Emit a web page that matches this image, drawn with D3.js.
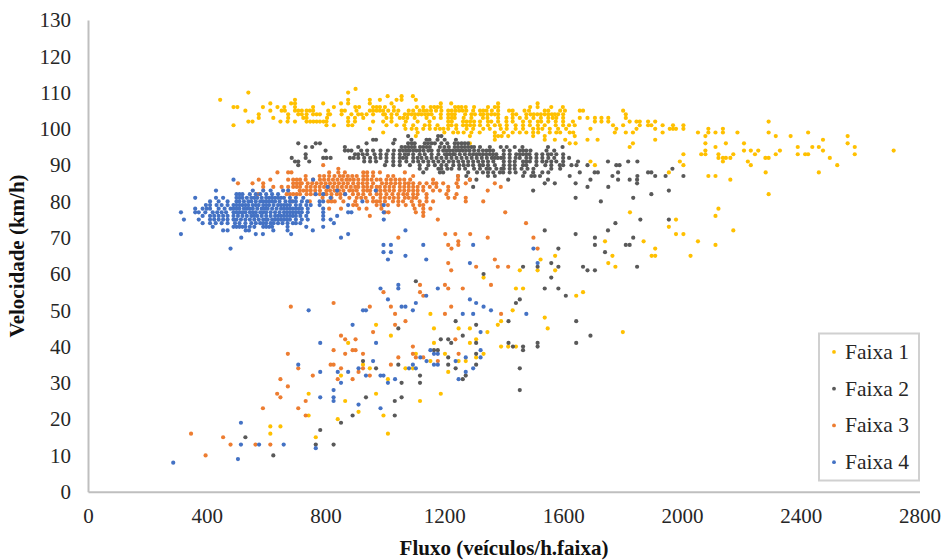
<!DOCTYPE html>
<html lang="pt">
<head>
<meta charset="UTF-8">
<title>Fluxo x Velocidade</title>
<script src="https://d3js.org/d3.v7.min.js"></script>
<style>
    html, body { margin: 0; padding: 0; background: #fff; }
    svg { display: block; }
    text { font-family: "Liberation Serif", serif; fill: #262626; }
    .axis path { stroke: #bfbfbf; stroke-width: 2px; }
    .axis text { font-size: 21px; }
    .title { font-size: 21px; font-weight: bold; fill: #111; }
    .legend-label { font-size: 21.5px; }
</style>
</head>
<body>
<div id="chart"></div>
<script>
const xTicks = [0, 400, 800, 1200, 1600, 2000, 2400, 2800];
const yTicks = [0, 10, 20, 30, 40, 50, 60, 70, 80, 90, 100, 110, 120, 130];
const seriesNames = ["Faixa 1", "Faixa 2", "Faixa 3", "Faixa 4"];
const seriesColors = ["#ffc000", "#595959", "#ed7d31", "#4472c4"];

// each row is [speed, [flows read at that speed]]
const faixa1 = [
    [111, [901]],
    [110, [540, 876]],
    [109, [1009, 1056, 1094]],
    [108, [445, 697, 876, 949, 983, 1039, 1056, 1104]],
    [107, [614, 684, 697, 792, 852, 876, 949, 1022, 1188, 1223, 1381, 1514]],
    [106, [490, 503, 589, 638, 661, 697, 758, 828, 900, 913, 960, 972, 983, 1000, 1030, 1107, 1129, 1154, 1166, 1177, 1188, 1236, 1247, 1258, 1272, 1300, 1347, 1370, 1381, 1489, 1514, 1560, 1599]],
    [105, [530, 614, 652, 663, 697, 708, 720, 736, 747, 758, 809, 854, 865, 904, 949, 960, 972, 983, 994, 1011, 1030, 1045, 1080, 1095, 1117, 1130, 1141, 1155, 1172, 1190, 1213, 1225, 1238, 1250, 1262, 1274, 1297, 1320, 1331, 1342, 1360, 1381, 1418, 1430, 1470, 1485, 1538, 1550, 1590, 1606, 1656, 1667, 1802]],
    [104, [575, 674, 708, 720, 736, 758, 770, 781, 809, 815, 854, 887, 910, 922, 938, 960, 994, 1000, 1022, 1040, 1067, 1078, 1090, 1101, 1112, 1123, 1135, 1146, 1157, 1188, 1213, 1225, 1235, 1270, 1291, 1303, 1322, 1331, 1345, 1358, 1370, 1381, 1430, 1442, 1476, 1490, 1501, 1513, 1525, 1538, 1550, 1562, 1572, 1583, 1600, 1811]],
    [103, [575, 624, 674, 725, 736, 805, 876, 899, 927, 1005, 1022, 1050, 1062, 1075, 1100, 1140, 1165, 1188, 1213, 1225, 1235, 1265, 1291, 1330, 1345, 1381, 1409, 1430, 1454, 1476, 1500, 1525, 1550, 1565, 1577, 1600, 1656, 1682, 1707, 1729, 1752, 1811]],
    [102, [540, 554, 648, 672, 697, 736, 748, 759, 770, 781, 793, 803, 876, 899, 960, 994, 1022, 1070, 1110, 1150, 1213, 1225, 1263, 1275, 1287, 1300, 1320, 1347, 1358, 1381, 1409, 1430, 1465, 1488, 1515, 1526, 1550, 1575, 1600, 1633, 1707, 1729, 1752, 1824, 1847, 1858, 1886, 1910, 2292]],
    [101, [490, 803, 828, 876, 890, 1005, 1039, 1065, 1095, 1134, 1150, 1177, 1213, 1224, 1240, 1263, 1275, 1287, 1300, 1320, 1347, 1370, 1387, 1410, 1440, 1465, 1488, 1515, 1538, 1575, 1600, 1620, 1639, 1768, 1802, 1858, 1886, 1897, 1935, 1970, 2005]],
    [100, [949, 1069, 1090, 1106, 1129, 1151, 1170, 1185, 1197, 1213, 1240, 1275, 1297, 1331, 1353, 1390, 1410, 1440, 1465, 1499, 1516, 1530, 1555, 1583, 1610, 1692, 1779, 1847, 1910, 1959, 1970, 1980, 2005, 2089, 2138]],
    [99, [994, 1110, 1200, 1230, 1246, 1265, 1291, 1319, 1370, 1400, 1430, 1454, 1476, 1499, 1516, 1555, 1577, 1590, 1622, 1634, 1774, 1811, 1835, 1935, 2054, 2089, 2113, 2138, 2187, 2292, 2425]],
    [98, [1104, 1286, 1370, 1381, 1393, 1415, 1499, 1538, 1639, 2079, 2316, 2366, 2558]],
    [97, [1370, 1538, 1572, 1607, 1682, 1716, 1910, 2475]],
    [96, [1286, 1622, 1642, 1835, 2079, 2148, 2209, 2558]],
    [95, [1824, 2113, 2390, 2439, 2461, 2582]],
    [94, [2079, 2209, 2232, 2257, 2330, 2475, 2713]],
    [93, [2005, 2065, 2079, 2123, 2173, 2246, 2316, 2390, 2415, 2425, 2582]],
    [92, [2123, 2138, 2148, 2163, 2281, 2292, 2498]],
    [91, [1692, 1993, 2138, 2222]],
    [90, [1707, 2005, 2232, 2523]],
    [88, [1956, 2282, 2461]],
    [87, [2089, 2113]],
    [86, [2163]],
    [82, [2292]],
    [78, [2123]],
    [77, [1825]],
    [76, [2113]],
    [75, [1980]],
    [73, [1956]],
    [72, [2173]],
    [71, [1980, 2005]],
    [69, [1741, 1871, 2054]],
    [68, [2113]],
    [67, [1910]],
    [65, [1573, 1766, 1898, 1910, 2029]],
    [64, [1524]],
    [63, [1752]],
    [62, [1776]],
    [61, [1454, 1514, 1573]],
    [59, [1332]],
    [56, [1441, 1465]],
    [55, [1667]],
    [54, [1644]],
    [50, [1430]],
    [49, [1153]],
    [48, [1538]],
    [47, [1391]],
    [46, [970, 1380]],
    [45, [1165, 1248, 1286, 1548]],
    [44, [1345, 1801]],
    [43, [1020]],
    [42, [1307]],
    [41, [876, 1165, 1286]],
    [40, [1391, 1415, 1441]],
    [38, [1104, 1202, 1332]],
    [37, [1307]],
    [36, [1153, 1248, 1272]],
    [35, [926]],
    [34, [949, 1069, 1094]],
    [33, [1213]],
    [32, [852]],
    [31, [1010]],
    [27, [743, 970, 1188]],
    [25, [866, 1118]],
    [22, [911]],
    [21, [743, 995]],
    [20, [841]],
    [18, [614, 648]],
    [16, [614, 1010]],
    [15, [767]]
];

const faixa2 = [
    [98, [1078, 1179, 1190]],
    [97, [960, 970, 1033, 1089, 1140, 1150, 1177, 1201, 1239]],
    [96, [708, 767, 781, 938, 1028, 1078, 1090, 1100, 1134, 1145, 1157, 1168, 1190, 1210, 1235, 1246, 1258, 1269, 1280]],
    [95, [733, 755, 865, 910, 1056, 1068, 1079, 1090, 1100, 1118, 1129, 1140, 1151, 1185, 1200, 1215, 1235, 1246, 1258, 1269, 1280, 1291, 1300, 1320, 1353, 1390, 1410, 1437, 1463, 1549, 1598]],
    [94, [800, 865, 876, 887, 920, 940, 960, 985, 1010, 1030, 1050, 1061, 1072, 1083, 1095, 1106, 1117, 1130, 1146, 1157, 1180, 1196, 1207, 1218, 1229, 1240, 1251, 1262, 1273, 1285, 1300, 1315, 1330, 1342, 1353, 1364, 1400, 1420, 1454, 1465, 1476, 1490, 1544, 1570]],
    [93, [733, 899, 910, 925, 940, 965, 985, 1005, 1028, 1050, 1067, 1078, 1095, 1117, 1134, 1157, 1180, 1202, 1210, 1219, 1230, 1235, 1252, 1269, 1285, 1297, 1308, 1319, 1330, 1341, 1353, 1364, 1375, 1400, 1420, 1442, 1454, 1465, 1476, 1487, 1510, 1530, 1549, 1560, 1577, 1600]],
    [92, [686, 733, 792, 803, 817, 882, 895, 910, 930, 950, 968, 985, 1005, 1028, 1050, 1061, 1072, 1095, 1110, 1123, 1140, 1157, 1174, 1190, 1207, 1224, 1241, 1258, 1275, 1292, 1309, 1326, 1343, 1360, 1370, 1380, 1391, 1400, 1420, 1440, 1454, 1476, 1490, 1510, 1530, 1550, 1570, 1600, 1620]],
    [91, [697, 708, 745, 930, 950, 970, 1005, 1028, 1050, 1072, 1095, 1112, 1129, 1146, 1163, 1180, 1197, 1215, 1230, 1247, 1263, 1280, 1297, 1314, 1330, 1347, 1365, 1400, 1420, 1437, 1465, 1476, 1488, 1510, 1530, 1544, 1560, 1577, 1600, 1650, 1751, 1819, 1850]],
    [90, [708, 1000, 1028, 1050, 1084, 1117, 1146, 1168, 1190, 1207, 1230, 1250, 1265, 1280, 1297, 1319, 1330, 1347, 1370, 1400, 1420, 1437, 1465, 1476, 1510, 1540, 1560, 1589, 1600, 1628, 1645, 1682, 1779, 1790]],
    [89, [1117, 1140, 1180, 1190, 1210, 1224, 1250, 1270, 1300, 1320, 1342, 1353, 1375, 1392, 1400, 1420, 1437, 1460, 1480, 1500, 1560, 1590, 1968]],
    [88, [1129, 1185, 1196, 1280, 1310, 1330, 1347, 1365, 1387, 1398, 1420, 1440, 1470, 1499, 1530, 1550, 1656, 1706, 1717, 1785, 1886, 1897]],
    [87, [1246, 1274, 1347, 1370, 1465, 1493, 1504, 1522, 1622, 1766, 1850, 1910, 1945, 2005]],
    [86, [1286, 1308, 1415, 1549, 1692, 1785, 1824, 1849]],
    [85, [1538, 1572, 1642, 1849]],
    [84, [1297, 1682, 1752]],
    [83, [1499, 1956]],
    [82, [1897]],
    [81, [1642, 1836]],
    [80, [1727]],
    [75, [1860, 1956]],
    [74, [1776]],
    [72, [1538, 1751]],
    [71, [1642]],
    [70, [1707, 1836]],
    [68, [1707, 1811, 1824]],
    [67, [1584]],
    [66, [1741]],
    [63, [1560]],
    [62, [1465, 1514, 1584, 1667, 1849]],
    [61, [1682, 1707]],
    [60, [1332]],
    [59, [1560]],
    [58, [1104]],
    [56, [1538, 1584]],
    [54, [1609]],
    [53, [1454]],
    [52, [1441]],
    [47, [1238, 1416, 1644]],
    [46, [1307]],
    [45, [1045]],
    [43, [1262, 1692]],
    [42, [1188, 1213]],
    [41, [1223, 1307, 1416, 1514, 1644]],
    [40, [1431, 1465, 1514]],
    [39, [1165, 1178, 1465]],
    [38, [1307]],
    [37, [1213]],
    [36, [926]],
    [35, [1045, 1213, 1307]],
    [34, [970, 1238, 1454]],
    [32, [1118, 1272]],
    [31, [1262]],
    [30, [1056, 1118]],
    [28, [1454]],
    [26, [936, 1056]],
    [25, [1033]],
    [21, [891, 1033]],
    [19, [852]],
    [17, [782]],
    [15, [530]],
    [13, [767, 827]],
    [10, [624]]
];

const faixa3 = [
    [90, [792]],
    [89, [843]],
    [88, [638, 674, 685, 812, 843, 865, 927, 940, 960, 983, 1067]],
    [87, [733, 780, 795, 812, 830, 848, 860, 875, 890, 905, 927, 940, 960, 1010, 1028, 1095, 1246]],
    [86, [575, 614, 674, 691, 703, 714, 733, 758, 781, 795, 810, 825, 840, 855, 870, 882, 895, 910, 927, 940, 955, 972, 985, 1005, 1020, 1035, 1050, 1065, 1085, 1162, 1246, 1286]],
    [85, [505, 554, 590, 691, 703, 714, 720, 740, 755, 770, 785, 800, 815, 830, 845, 860, 875, 893, 910, 925, 940, 960, 990, 1005, 1020, 1035, 1050, 1067, 1080, 1095, 1117, 1140, 1162, 1173, 1196, 1241, 1272, 1370]],
    [84, [590, 624, 652, 674, 691, 703, 714, 736, 750, 765, 780, 795, 810, 825, 840, 855, 870, 885, 900, 910, 927, 940, 955, 972, 983, 1000, 1015, 1030, 1050, 1065, 1080, 1095, 1110, 1129, 1151, 1173, 1213, 1246, 1390]],
    [83, [713, 725, 737, 750, 765, 781, 803, 815, 830, 845, 860, 880, 892, 905, 927, 940, 950, 972, 985, 1000, 1015, 1030, 1050, 1065, 1080, 1095, 1110, 1129, 1162, 1185, 1213, 1346]],
    [82, [573, 669, 680, 691, 703, 714, 736, 750, 765, 781, 795, 803, 820, 838, 850, 865, 892, 910, 927, 950, 972, 985, 1005, 1025, 1045, 1062, 1075, 1095, 1110, 1140, 1207, 1241]],
    [81, [790, 820, 850, 880, 905, 920, 935, 960, 985, 1000, 1015, 1030, 1045, 1067, 1080, 1095, 1106, 1140, 1213, 1235, 1272]],
    [80, [685, 747, 809, 820, 831, 860, 900, 940, 960, 972, 983, 1000, 1027, 1045, 1061, 1090, 1117, 1140, 1162, 1272, 1331]],
    [79, [893, 905, 972, 988, 1010, 1045, 1070, 1095, 1117, 1129]],
    [78, [812, 852, 913, 938, 988, 1100, 1129, 1153]],
    [77, [1000, 1012, 1104, 1129, 1405]],
    [76, [949, 1129]],
    [75, [1178]],
    [74, [1475]],
    [71, [1203, 1237, 1287]],
    [70, [1045, 1346, 1500]],
    [69, [1247]],
    [68, [1213, 1247]],
    [67, [1224, 1514]],
    [64, [1370]],
    [63, [1213]],
    [62, [1307, 1380, 1415]],
    [61, [1223]],
    [57, [1118, 1202, 1357]],
    [56, [1213, 1262]],
    [55, [995, 1118]],
    [54, [1129]],
    [52, [827]],
    [51, [683, 949, 1020, 1223]],
    [49, [1034, 1202, 1391]],
    [47, [1069]],
    [46, [1034]],
    [44, [960]],
    [43, [852]],
    [42, [866, 901, 1237]],
    [40, [1094]],
    [39, [827, 891, 901]],
    [38, [673, 866, 926, 1094, 1248]],
    [37, [1045, 1104, 1129]],
    [36, [1178]],
    [35, [817, 827, 1020]],
    [34, [708, 852, 926]],
    [33, [911]],
    [32, [757, 949]],
    [31, [648, 841, 891]],
    [29, [673]],
    [27, [637]],
    [26, [648]],
    [25, [733]],
    [23, [589, 708]],
    [21, [733]],
    [16, [347]],
    [15, [455]],
    [13, [480, 564, 614]],
    [10, [396]]
];

const faixa4 = [
    [86, [490, 758]],
    [84, [807]],
    [83, [431, 555, 590, 615, 657, 674, 839, 969]],
    [82, [500, 510, 520, 545, 565, 580, 600, 620, 640, 767, 792, 866]],
    [81, [361, 431, 455, 500, 510, 520, 535, 550, 560, 570, 585, 600, 610, 620, 630, 640, 650, 660, 680, 700, 725, 817]],
    [80, [411, 440, 470, 500, 510, 525, 540, 550, 565, 580, 590, 600, 610, 620, 630, 645, 665, 680, 690, 700, 720, 738, 780, 792, 924]],
    [79, [397, 411, 433, 450, 470, 490, 500, 510, 520, 530, 540, 555, 565, 575, 590, 600, 610, 625, 640, 650, 660, 670, 680, 700, 715, 735, 750, 780, 876, 996]],
    [78, [361, 386, 400, 411, 440, 460, 480, 490, 500, 510, 525, 535, 545, 555, 570, 585, 595, 605, 620, 635, 650, 660, 670, 680, 690, 700, 710, 720, 740, 792]],
    [77, [313, 361, 373, 395, 420, 435, 450, 465, 490, 500, 510, 520, 530, 545, 555, 565, 580, 590, 600, 615, 630, 645, 660, 670, 680, 690, 700, 710, 720, 740, 792, 876, 887, 996]],
    [76, [386, 411, 425, 440, 455, 470, 490, 505, 520, 535, 550, 560, 570, 585, 600, 615, 630, 640, 650, 660, 670, 680, 690, 700, 715, 735, 792, 839]],
    [75, [323, 373, 411, 425, 440, 455, 470, 490, 500, 515, 530, 545, 560, 575, 590, 600, 605, 620, 630, 640, 650, 660, 670, 680, 700, 720, 740, 792, 817, 996]],
    [74, [386, 411, 430, 450, 470, 495, 510, 530, 550, 565, 580, 590, 600, 615, 625, 640, 655, 672, 690, 700, 715, 828]],
    [73, [420, 490, 500, 510, 520, 530, 545, 560, 590, 600, 610, 620, 672, 735, 792]],
    [72, [455, 470, 531, 542, 624, 672, 757, 1069]],
    [71, [313, 565, 589, 684, 876]],
    [70, [516, 852]],
    [68, [995, 1020, 1129, 1297]],
    [67, [480, 1500]],
    [66, [995, 1020]],
    [65, [1069]],
    [64, [1010, 1139]],
    [63, [1286, 1514]],
    [57, [1045]],
    [56, [985, 1045, 1178]],
    [54, [1139]],
    [53, [1010, 1286]],
    [52, [1104, 1307]],
    [51, [1056, 1069, 1332]],
    [50, [743, 926, 936, 1094, 1357]],
    [49, [1262, 1297, 1476]],
    [46, [891]],
    [44, [1322]],
    [41, [782, 970]],
    [39, [1153, 1322]],
    [38, [1165, 1178]],
    [37, [1119, 1272, 1322]],
    [36, [960, 1140, 1238]],
    [35, [708, 1094, 1165, 1178]],
    [34, [911, 1081, 1104, 1297]],
    [33, [782, 841, 876, 1272]],
    [32, [936, 985, 995]],
    [31, [1034, 1248]],
    [30, [852, 1010]],
    [28, [827]],
    [26, [782, 827]],
    [25, [827]],
    [24, [911]],
    [23, [985]],
    [19, [515]],
    [13, [515, 576, 659]],
    [12, [767]],
    [9, [505]],
    [8, [287]]
];

const allSeries = [faixa1, faixa2, faixa3, faixa4];

const width = 943;
const height = 560;

const x = d3.scaleLinear().domain([0, 2800]).range([88, 919.5]);
const y = d3.scaleLinear().domain([0, 130]).range([491.7, 20]);

const svg = d3.select("#chart").append("svg")
    .attr("width", width)
    .attr("height", height);

// flatten rows into points, one group per series, faixa 4 ends up on top
allSeries.forEach((rows, i) => {
    const points = rows.flatMap(r => r[1].map(f => [f, r[0]]));
    svg.append("g")
        .selectAll("circle")
        .data(points)
        .enter().append("circle")
        .attr("cx", d => x(d[0]))
        .attr("cy", d => y(d[1]))
        .attr("r", 2.1)
        .attr("fill", seriesColors[i]);
});

const xAxis = d3.axisBottom(x).tickValues(xTicks).tickSize(0).tickPadding(16).tickFormat(d3.format("d"));
const yAxis = d3.axisLeft(y).tickValues(yTicks).tickSize(0).tickPadding(17).tickFormat(d3.format("d"));

svg.append("g")
    .attr("class", "axis")
    .attr("transform", "translate(0," + y(0) + ")")
    .call(xAxis);

svg.append("g")
    .attr("class", "axis")
    .attr("transform", "translate(" + x(0) + ",0)")
    .call(yAxis);

svg.append("text")
    .attr("class", "title")
    .attr("x", 504)
    .attr("y", 555)
    .attr("text-anchor", "middle")
    .text("Fluxo (veículos/h.faixa)");

svg.append("text")
    .attr("class", "title")
    .attr("transform", "translate(24,256) rotate(-90)")
    .attr("text-anchor", "middle")
    .text("Velocidade (km/h)");

// legend box
const legend = svg.append("g").attr("transform", "translate(819,333.5)");

legend.append("rect")
    .attr("width", 100)
    .attr("height", 147)
    .attr("fill", "#fff")
    .attr("stroke", "#d0d0d0")
    .attr("stroke-width", 2);

const legendRow = d3.scaleBand().domain(seriesNames).range([0, 147]).paddingOuter(0);

seriesNames.forEach((name, i) => {
    const cy = legendRow(name) + legendRow.bandwidth() / 2;
    legend.append("circle")
        .attr("cx", 15)
        .attr("cy", cy)
        .attr("r", 1.9)
        .attr("fill", seriesColors[i]);
    legend.append("text")
        .attr("class", "legend-label")
        .attr("x", 26)
        .attr("y", cy + 7)
        .text(name);
});
</script>
</body>
</html>
